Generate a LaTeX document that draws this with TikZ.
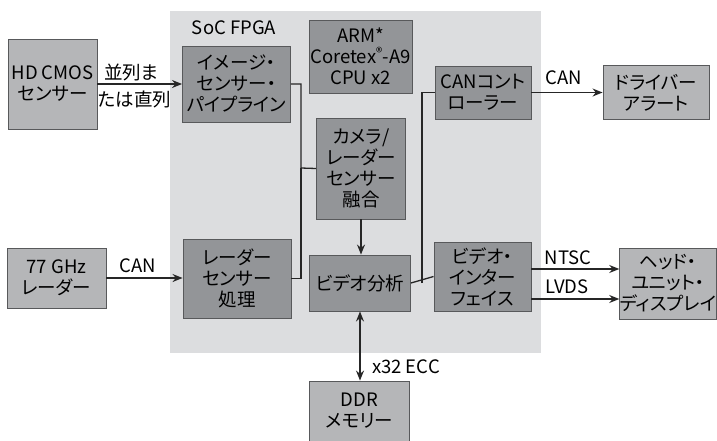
\documentclass[tikz,border=0pt]{standalone}
\usepackage{fontspec}
\setmainfont{Noto Sans CJK JP}[RawFeature=+palt]
\usepackage{tikz}
\usetikzlibrary{arrows.meta, positioning, calc}

\definecolor{socgray}{RGB}{220,221,223}
\definecolor{darkbox}{RGB}{147,149,152}
\definecolor{lightbox}{RGB}{181,182,184}
\definecolor{edgegray}{RGB}{88,89,91}

\begin{document}
\begin{tikzpicture}[
    x=1pt, y=-1pt,
    box/.style={draw=edgegray, line width=0.9pt, align=center, inner sep=0pt,
        font=\fontsize{18.5}{21}\selectfont},
    inbox/.style={box, fill=darkbox},
    outbox/.style={box, fill=lightbox},
    wire/.style={line width=1.3pt, draw=black!85},
    arr/.style={wire, -{Stealth[length=10pt, width=8pt]}},
    dblarr/.style={wire, {Stealth[length=10pt, width=8pt]}-{Stealth[length=10pt, width=8pt]}},
    lbl/.style={font=\fontsize{18.5}{21}\selectfont, inner sep=0pt}
]
\useasboundingbox (0,0) rectangle (717,440);

% SoC area
\fill[socgray] (170,11) rectangle (541,353);
\node[lbl] (soc) at (234,28) {SoC FPGA};

% blocks inside the SoC
\node[inbox, minimum width=108pt, minimum height=76pt] (pipe) at (236.5,84) {イメージ・\\センサー・\\パイプライン};
\node[inbox, minimum width=103pt, minimum height=73pt] (arm) at (360.5,56.5) {ARM*\\Coretex\textsuperscript{®}-A9\\CPU x2};
\node[inbox, minimum width=89pt, minimum height=101pt] (fusion) at (361,168.5) {カメラ/\\レーダー\\センサー\\融合};
\node[inbox, minimum width=96pt, minimum height=53pt] (canc) at (483,92.5) {CANコント\\ローラー};
\node[inbox, minimum width=108pt, minimum height=79pt] (rproc) at (237,278.5) {レーダー\\センサー\\処理};
\node[inbox, minimum width=101pt, minimum height=56pt] (vana) at (360,283) {ビデオ分析};
\node[inbox, minimum width=97pt, minimum height=69pt] (vif) at (482.5,276.5) {ビデオ・\\インター\\フェイス};

% blocks outside
\node[outbox, minimum width=89pt, minimum height=90pt] (cmos) at (52.5,84) {HD CMOS\\センサー};
\node[outbox, minimum width=106pt, minimum height=54pt] (alert) at (656,92.5) {ドライバー\\アラート};
\node[outbox, minimum width=99pt, minimum height=60pt] (radar) at (56.5,278) {77 GHz\\レーダー};
\node[outbox, minimum width=96pt, minimum height=71pt] (head) at (668,283.5) {ヘッド・\\ユニット・\\ディスプレイ};
\node[outbox, minimum width=100pt, minimum height=60pt] (ddr) at (359.5,411) {DDR\\メモリー};

% connectors
\coordinate (mergeL) at (301,168);
\coordinate (mergeR) at (422,283);
\coordinate (ntsc) at (0,269);
\coordinate (lvds) at (0,299);

\draw[arr] (cmos.east) -- (pipe.west);
\node[lbl] (par) at (131.5,72) {並列ま};
\node[lbl] (ser) at (134.5,99) {たは直列};

\draw[arr] (radar.east) -- (radar.east -| rproc.west);
\node[lbl] (can1) at (138,266) {CAN};

\draw[wire] (pipe.east) -| (mergeL) -- (fusion.west);
\draw[wire] (rproc.east) -| (mergeL);
\draw[arr] (fusion.south) -- (fusion.south |- vana.north);

\draw[wire] (vana.east) -- (vif.west);
\draw[wire] (mergeR) |- (canc.west);

\draw[arr] (canc.east) -- (canc.east -| alert.west);
\node[lbl] (can2) at (563.5,78) {CAN};

\draw[arr] (vif.east |- ntsc) -- (head.west |- ntsc);
\node[lbl] (ntsclbl) at (568,258) {NTSC};
\draw[arr] (vif.east |- lvds) -- (head.west |- lvds);
\node[lbl] (lvdslbl) at (567,287) {LVDS};

\draw[dblarr] (vana.south) -- (vana.south |- ddr.north);
\node[lbl] (ecc) at (406,367) {x32 ECC};
\end{tikzpicture}
\end{document}
